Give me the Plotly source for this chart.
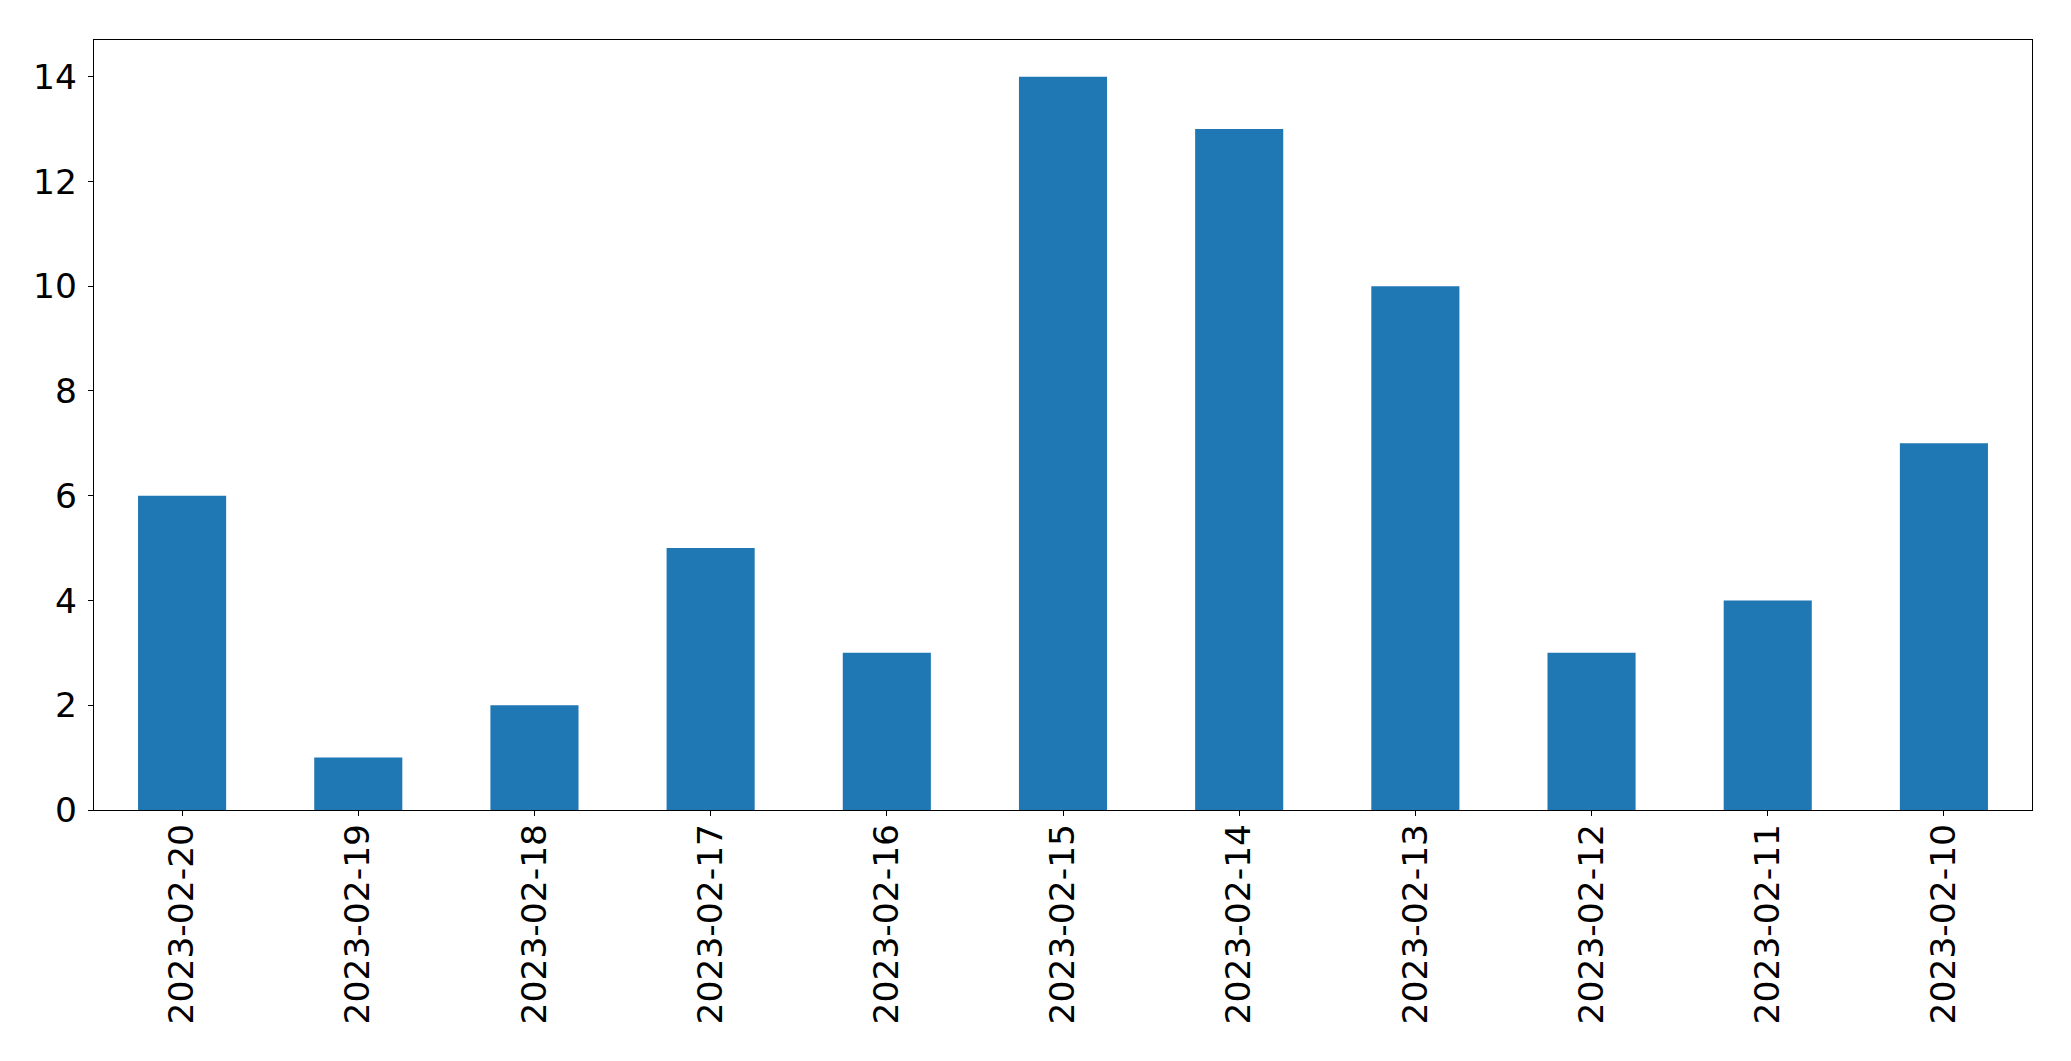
import plotly.graph_objects as go

dates = ["2023-02-20", "2023-02-19", "2023-02-18", "2023-02-17", "2023-02-16",
         "2023-02-15", "2023-02-14", "2023-02-13", "2023-02-12", "2023-02-11", "2023-02-10"]
counts = [6, 1, 2, 5, 3, 14, 13, 10, 3, 4, 7]
y_ticks = [0, 2, 4, 6, 8, 10, 12, 14]

fig = go.Figure(go.Bar(x=dates, y=counts, width=0.5, marker=dict(color="#1f77b4", line=dict(width=0))))

font = dict(family="DejaVu Sans", size=34.5, color="black")
# the page body adds an 8px offset, so the figure is sized/margined to compensate
fig.update_layout(
    width=2055, height=1045,
    margin=dict(l=86, r=31, t=32, b=243),
    plot_bgcolor="white", paper_bgcolor="white",
    showlegend=False,
    font=font,
)
fig.update_xaxes(
    type="category", range=[-0.5, 10.5],
    tickangle=-90, ticks="outside", ticklen=5, tickcolor="black",
    showline=True, linecolor="black", linewidth=1.3, mirror=True,
    showgrid=False, tickfont=font, ticklabelstandoff=-6,
)
fig.update_yaxes(
    range=[0, 14.7], tickvals=y_ticks,
    ticks="outside", ticklen=5, tickcolor="black",
    showline=True, linecolor="black", linewidth=1.3, mirror=True,
    showgrid=False, zeroline=False, tickfont=font, ticklabelstandoff=4,
)
fig.write_html("out.html")
